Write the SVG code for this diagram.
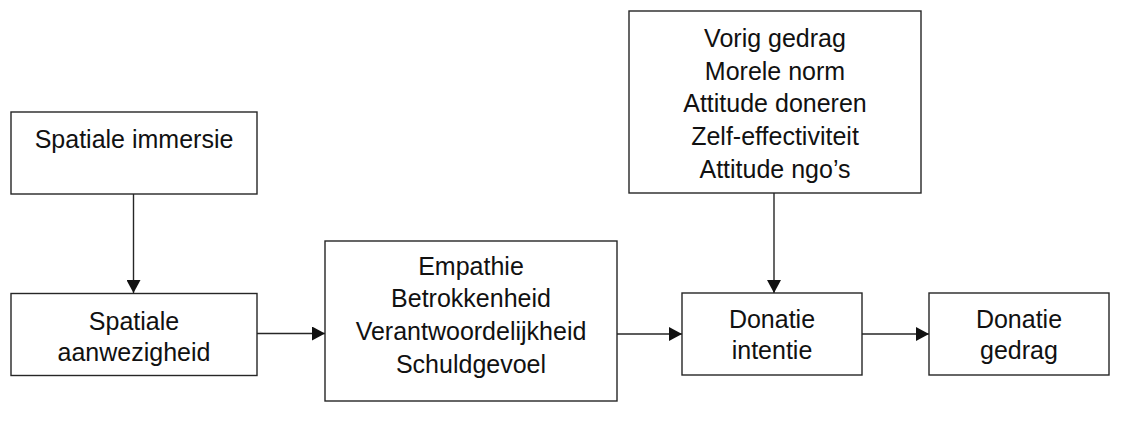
<svg xmlns="http://www.w3.org/2000/svg" width="1128" height="430" viewBox="0 0 1128 430">
<style>
.box{fill:#fff;stroke:#262626;stroke-width:1.4}
.t{font-family:"Liberation Sans",Arial,sans-serif;font-size:25px;fill:#111;text-anchor:middle}
.c{stroke:#262626;stroke-width:1.4;fill:none;marker-end:url(#ah)}
</style>
<defs>
<marker id="ah" viewBox="0 0 13 14" refX="13" refY="7" markerWidth="13" markerHeight="14" markerUnits="userSpaceOnUse" orient="auto">
<path d="M0,0 L13,7 L0,14 Z" fill="#111"/>
</marker>
</defs>
<rect width="1128" height="430" fill="#fff"/>
<g id="connectors">
<line class="c" x1="133.5" y1="194" x2="133.5" y2="293"/>
<line class="c" x1="257" y1="333.5" x2="325" y2="333.5"/>
<line class="c" x1="617" y1="334" x2="682" y2="334"/>
<line class="c" x1="774" y1="193" x2="774" y2="293"/>
<line class="c" x1="862" y1="334" x2="929" y2="334"/>
</g>
<g id="spatiale-immersie">
<rect class="box" x="11" y="112" width="246" height="82"/>
<text class="t" x="134" y="148">Spatiale immersie</text>
</g>
<g id="spatiale-aanwezigheid">
<rect class="box" x="11" y="293.5" width="246" height="82"/>
<text class="t" x="134" y="330">Spatiale</text>
<text class="t" x="134" y="361">aanwezigheid</text>
</g>
<g id="emoties">
<rect class="box" x="325" y="241" width="292" height="160"/>
<text class="t" x="471" y="274.5">Empathie</text>
<text class="t" x="471" y="307">Betrokkenheid</text>
<text class="t" x="471" y="339.5">Verantwoordelijkheid</text>
<text class="t" x="471" y="373">Schuldgevoel</text>
</g>
<g id="determinanten">
<rect class="box" x="629" y="11" width="292" height="182"/>
<text class="t" x="775" y="46.5">Vorig gedrag</text>
<text class="t" x="775" y="79.5">Morele norm</text>
<text class="t" x="775" y="112">Attitude doneren</text>
<text class="t" x="775" y="145">Zelf-effectiviteit</text>
<text class="t" x="775" y="178">Attitude ngo’s</text>
</g>
<g id="donatie-intentie">
<rect class="box" x="682" y="293" width="180" height="82"/>
<text class="t" x="772" y="327.5">Donatie</text>
<text class="t" x="772" y="358.5">intentie</text>
</g>
<g id="donatie-gedrag">
<rect class="box" x="929" y="293" width="180" height="82"/>
<text class="t" x="1019" y="327.5">Donatie</text>
<text class="t" x="1019" y="358.5">gedrag</text>
</g>
</svg>
